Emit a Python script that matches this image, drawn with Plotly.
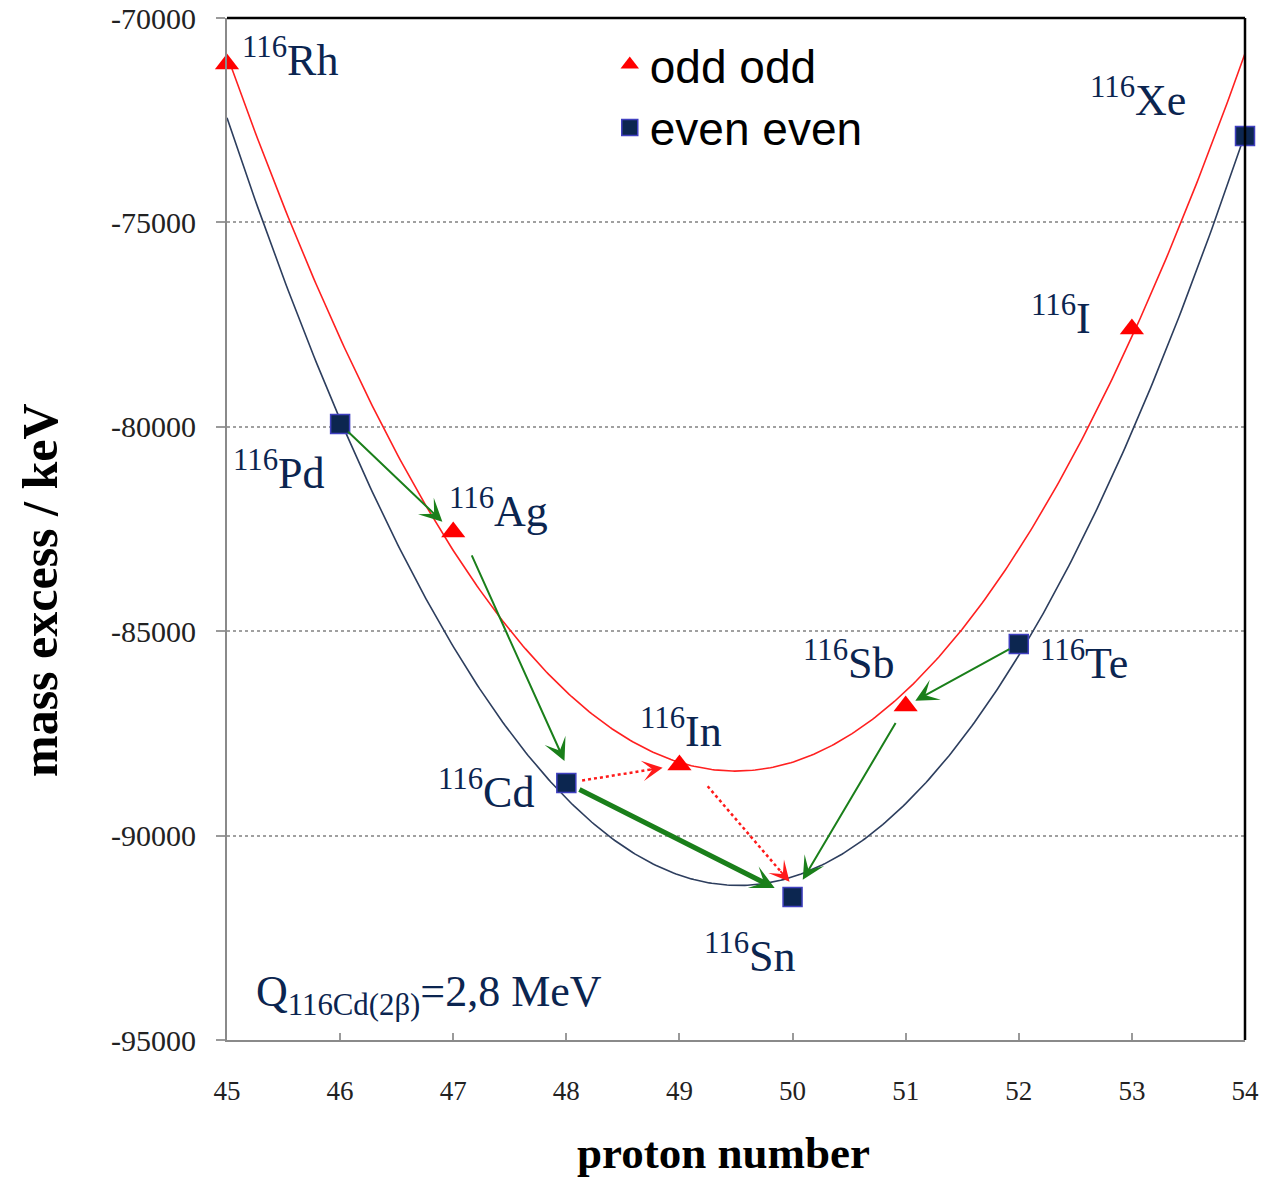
import numpy as np
import plotly.graph_objects as go

# ---------------- data ----------------
mass_number = 116
odd_Z = [45, 47, 49, 51, 53]
odd_mass = [-71125, -82574, -88273, -86830, -77607]
odd_names = ["Rh", "Ag", "In", "Sb", "I"]
even_Z = [46, 48, 50, 52, 54]
even_mass = [-79932, -88713, -91502, -85313, -72886]
even_names = ["Pd", "Cd", "Sn", "Te", "Xe"]
x_ticks = list(range(45, 55))
y_ticks = list(range(-95000, -69999, 5000))
q_text = "Q<sub>116Cd(2β)</sub>=2,8 MeV"
x_title = "<b>proton number</b>"
y_title = "<b>mass excess / keV</b>"

# decay arrows: (from, to, kind)
decays = [("Pd", "Ag", "beta"), ("Ag", "Cd", "beta"), ("Cd", "Sn", "2beta"),
          ("Te", "Sb", "beta"), ("Sb", "Sn", "beta"),
          ("Cd", "In", "forbidden"), ("In", "Sn", "forbidden")]

# ---------------- layout geometry ----------------
W, H = 1261, 1180
ML, MR, MT, MB = 227, 16, 18, 140
PW, PH = W - ML - MR, H - MT - MB
XR = [45, 54]
YR = [-95000, -70000]
kx = PW / (XR[1] - XR[0])
ky = PH / (YR[1] - YR[0])

pos = {}
for n, z, m in zip(odd_names, odd_Z, odd_mass):
    pos[n] = (z, m)
for n, z, m in zip(even_names, even_Z, even_mass):
    pos[n] = (z, m)

SERIF = "Liberation Serif, Times New Roman, serif"
SANS = "Liberation Sans, Arial, sans-serif"
NAVY = "#0b2550"
GREEN = "#1a7f1a"

fig = go.Figure()

# fitted parabolas
zf = np.linspace(XR[0], XR[1], 400)
odd_fit = np.polyval(np.polyfit(odd_Z, odd_mass, 2), zf)
even_fit = np.polyval(np.polyfit(even_Z, even_mass, 2), zf)
fig.add_trace(go.Scatter(x=zf, y=odd_fit, mode="lines", line=dict(color="#ff2020", width=1.6),
                         showlegend=False, hoverinfo="skip", cliponaxis=False))
fig.add_trace(go.Scatter(x=zf, y=even_fit, mode="lines", line=dict(color="#2d3e5e", width=1.6),
                         showlegend=False, hoverinfo="skip", cliponaxis=False))

# ---------------- arrows ----------------
style = {
    "beta": dict(color=GREEN, width=2),
    "2beta": dict(color=GREEN, width=5),
    "forbidden": dict(color="#ff1a1a", width=2.5),
}
# start/end standoffs (px) and sideways pixel shift for each arrow
geom = {
    ("Pd", "Ag"): (9, 15, 0),
    ("Ag", "Cd"): (24, 24, 8),
    ("Cd", "Sn"): (13, 20, 0),
    ("Te", "Sb"): (9, 11, 0),
    ("Sb", "Sn"): (18, 20, 0),
    ("Cd", "In"): (16, 17, 0),
    ("In", "Sn"): (28, 20, 10),
}


def to_px(z, m):
    return (z - XR[0]) * kx, (YR[1] - m) * ky


def to_data(px, py):
    return XR[0] + px / kx, YR[1] - py / ky


for a, b, kind in decays:
    st = style[kind]
    s0, s1, xs = geom[(a, b)]
    ax_, ay_ = to_px(*pos[a])
    bx_, by_ = to_px(*pos[b])
    dx, dy = bx_ - ax_, by_ - ay_
    L = (dx ** 2 + dy ** 2) ** 0.5
    ux, uy = dx / L, dy / L
    sx, sy = ax_ + ux * s0 + xs, ay_ + uy * s0
    ex, ey = bx_ - ux * s1 + xs, by_ - uy * s1
    if kind == "forbidden":
        hx, hy = ex - ux * 12, ey - uy * 12
        d1 = to_data(sx, sy)
        d2 = to_data(hx, hy)
        fig.add_trace(go.Scatter(x=[d1[0], d2[0]], y=[d1[1], d2[1]], mode="lines",
                                 line=dict(color=st["color"], width=st["width"], dash="dot"),
                                 showlegend=False, hoverinfo="skip"))
        tip = to_data(ex, ey)
        fig.add_annotation(x=tip[0], y=tip[1], ax=-ux * 16, ay=-uy * 16, axref="pixel", ayref="pixel",
                           showarrow=True, arrowhead=3, arrowsize=1.9, arrowwidth=1.8,
                           arrowcolor=st["color"], text="")
    else:
        tail = to_data(sx, sy)
        tip = to_data(ex, ey)
        size = 1.9 if st["width"] <= 2 else 0.8
        fig.add_annotation(x=tip[0], y=tip[1], ax=tail[0], ay=tail[1], axref="x", ayref="y",
                           showarrow=True, arrowhead=3, arrowsize=size, arrowwidth=st["width"],
                           arrowcolor=st["color"], text="")

# ---------------- markers ----------------
fig.add_trace(go.Scatter(x=odd_Z, y=odd_mass, mode="markers", name="odd odd",
                         marker=dict(symbol="triangle-up", size=21, color="#ff0000",
                                     line=dict(width=0)), cliponaxis=False))
fig.add_trace(go.Scatter(x=even_Z, y=even_mass, mode="markers", name="even even",
                         marker=dict(symbol="square", size=19, color="#0c2650",
                                     line=dict(width=1.5, color="#4040c0")), cliponaxis=False))

# ---------------- labels ----------------
label_off = {
    "Rh": ("left", 13, 6),
    "Pd": ("right", -13, -46),
    "Ag": ("left", -6, 24),
    "Cd": ("right", -30, -7),
    "In": ("center", 2, 37),
    "Sn": ("center", -43, -56),
    "Sb": ("center", -57, 46),
    "Te": ("left", 19, -16),
    "I": ("right", -39, 13),
    "Xe": ("right", -57, 38),
}
for n in odd_names + even_names:
    anc, xs, ys = label_off[n]
    z, m = pos[n]
    fig.add_annotation(x=z, y=m, text=f"<sup>{mass_number}</sup>{n}", showarrow=False,
                       xanchor=anc, yanchor="middle", xshift=xs, yshift=ys,
                       font=dict(family=SERIF, size=44, color=NAVY))

fig.add_annotation(xref="paper", yref="paper", x=0.027, y=0.045, xanchor="left", yanchor="middle",
                   text=q_text, showarrow=False, font=dict(family=SERIF, size=44, color=NAVY))

# axis titles
fig.add_annotation(xref="paper", yref="paper", x=(723 - ML) / PW, y=-(1153 - MT - PH) / PH,
                   xanchor="center", yanchor="middle", text=x_title, showarrow=False,
                   font=dict(family=SERIF, size=45, color="black"))
fig.add_annotation(xref="paper", yref="paper", x=(40 - ML) / PW, y=(MT + PH - 590) / PH,
                   xanchor="center", yanchor="middle", textangle=-90, text=y_title, showarrow=False,
                   font=dict(family=SERIF, size=50, color="black"))

# frame top/right (black)
fig.add_shape(type="line", xref="paper", yref="paper", x0=0, x1=1, y0=1, y1=1,
              line=dict(color="black", width=2.5))
fig.add_shape(type="line", xref="paper", yref="paper", x0=1, x1=1, y0=0, y1=1,
              line=dict(color="black", width=2.5))

fig.update_layout(
    width=W, height=H,
    margin=dict(l=ML, r=MR, t=MT, b=MB, autoexpand=False),
    paper_bgcolor="white", plot_bgcolor="white",
    showlegend=True,
    legend=dict(x=0.376, y=0.99, xanchor="left", yanchor="top",
                font=dict(family=SANS, size=46, color="black"),
                bgcolor="rgba(0,0,0,0)", tracegroupgap=0),
    xaxis=dict(range=XR, tickvals=x_ticks, ticktext=[str(t) for t in x_ticks],
               automargin=False,
               showgrid=False, zeroline=False, showline=True, linecolor="#8a8a8a", linewidth=2,
               ticks="inside", ticklen=7, tickwidth=1.5, tickcolor="#9a9a9a",
               ticklabelstandoff=26,
               tickfont=dict(family=SERIF, size=27, color="#222")),
    yaxis=dict(range=YR, tickvals=y_ticks, ticktext=[str(t) for t in y_ticks],
               automargin=False,
               showgrid=True, gridcolor="#a0a0a0", griddash="dot", gridwidth=1.5,
               zeroline=False, showline=True, linecolor="#8a8a8a", linewidth=2,
               ticks="outside", ticklen=9, tickwidth=1.5, tickcolor="#9a9a9a",
               ticklabelstandoff=14,
               tickfont=dict(family=SERIF, size=30, color="#222")),
)

fig.write_html("out.html")
